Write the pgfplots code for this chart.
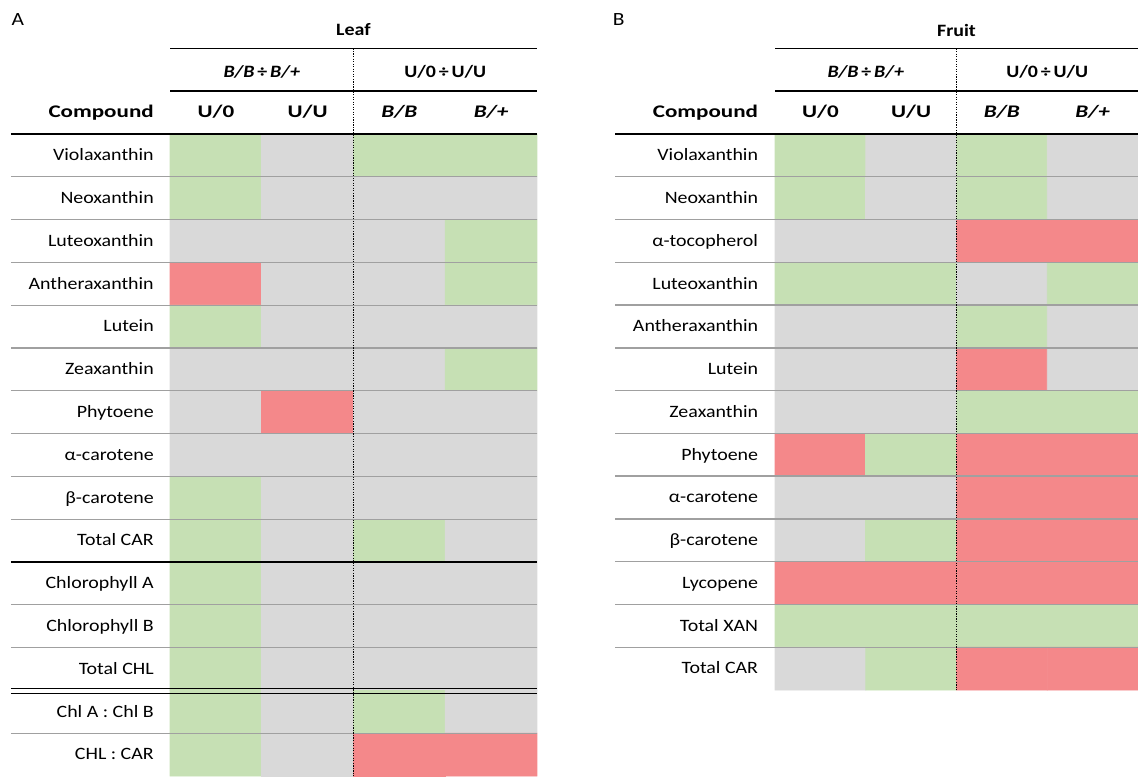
\documentclass[border=0pt]{standalone}
\usepackage{fontspec}
\setmainfont{Carlito}[FakeStretch=1.15]
\newfontfamily\hdfont{Carlito}[FakeStretch=1.3]
\usepackage{pgfplots}
\usepackage{pgfplotstable}
\pgfplotsset{compat=1.18}
\definecolor{cg}{HTML}{C6E0B4}
\definecolor{cn}{HTML}{D9D9D9}
\definecolor{cr}{HTML}{F4888A}
\definecolor{sep}{HTML}{A0A0A0}

% 0 = green (increase), 1 = grey (n.s.), 2 = red (decrease)
% columns: U/0, U/U, B/B, B/+
\pgfplotstableread{
x y c
0.5 -1 0
1.5 -1 1
2.5 -1 0
3.5 -1 0
0.5 -2 0
1.5 -2 1
2.5 -2 1
3.5 -2 1
0.5 -3 1
1.5 -3 1
2.5 -3 1
3.5 -3 0
0.5 -4 2
1.5 -4 1
2.5 -4 1
3.5 -4 0
0.5 -5 0
1.5 -5 1
2.5 -5 1
3.5 -5 1
0.5 -6 1
1.5 -6 1
2.5 -6 1
3.5 -6 0
0.5 -7 1
1.5 -7 2
2.5 -7 1
3.5 -7 1
0.5 -8 1
1.5 -8 1
2.5 -8 1
3.5 -8 1
0.5 -9 0
1.5 -9 1
2.5 -9 1
3.5 -9 1
0.5 -10 0
1.5 -10 1
2.5 -10 0
3.5 -10 1
0.5 -11 0
1.5 -11 1
2.5 -11 1
3.5 -11 1
0.5 -12 0
1.5 -12 1
2.5 -12 1
3.5 -12 1
0.5 -13 0
1.5 -13 1
2.5 -13 1
3.5 -13 1
0.5 -14 0
1.5 -14 1
2.5 -14 0
3.5 -14 1
0.5 -15 0
1.5 -15 1
2.5 -15 2
3.5 -15 2
}\leafdata

\pgfplotstableread{
x y c
0.5 -1 0
1.5 -1 1
2.5 -1 0
3.5 -1 1
0.5 -2 0
1.5 -2 1
2.5 -2 0
3.5 -2 1
0.5 -3 1
1.5 -3 1
2.5 -3 2
3.5 -3 2
0.5 -4 0
1.5 -4 0
2.5 -4 1
3.5 -4 0
0.5 -5 1
1.5 -5 1
2.5 -5 0
3.5 -5 1
0.5 -6 1
1.5 -6 1
2.5 -6 2
3.5 -6 1
0.5 -7 1
1.5 -7 1
2.5 -7 0
3.5 -7 0
0.5 -8 2
1.5 -8 0
2.5 -8 2
3.5 -8 2
0.5 -9 1
1.5 -9 1
2.5 -9 2
3.5 -9 2
0.5 -10 1
1.5 -10 0
2.5 -10 2
3.5 -10 2
0.5 -11 2
1.5 -11 2
2.5 -11 2
3.5 -11 2
0.5 -12 0
1.5 -12 0
2.5 -12 0
3.5 -12 0
0.5 -13 1
1.5 -13 0
2.5 -13 2
3.5 -13 2
}\fruitdata

\pgfplotsset{
  cellaxis/.style={
    scale only axis, hide axis, clip=false,
    anchor=north west,
    xmin=0, xmax=4,
    colormap={cat}{color(0)=(cg) color(1)=(cn) color(2)=(cr)},
    colormap access=direct,
    point meta min=0, point meta max=2,
  },
}
\newcommand{\fs}{\fontsize{13}{15}\selectfont}
\newcommand{\hs}{\hdfont\fontsize{13.3}{15}\selectfont\bfseries}

\begin{document}
\begin{tikzpicture}[font=\fs, every node/.style={inner sep=0pt}]
\useasboundingbox (0,0) rectangle (853.5pt,-582pt);
\node[anchor=base west, font=\fontsize{14}{16}\selectfont] at (8.5pt,-18.75pt) {A};
\node[anchor=base west, font=\fontsize{14}{16}\selectfont] at (459.5pt,-18.75pt) {B};

% ---------------- Panel A : Leaf ----------------
\begin{axis}[cellaxis, at={(127.5pt,-100.5pt)}, width=275.25pt, height=481.5pt,
  ymin=-15.5, ymax=-0.5]
\addplot[matrix plot*, mesh/cols=4, point meta=explicit] table[meta=c]{\leafdata};
\pgfplotsinvokeforeach{1,2,3,4,5,6,7,8,9,11,12,14}{
  \draw[sep, line width=1pt] (axis cs:-1.733,-#1-0.5) -- (axis cs:4,-#1-0.5);
}
\draw[black, line width=0.8pt] (axis cs:-1.733,-10.5) -- (axis cs:4,-10.5);
\draw[black, line width=0.8pt] (axis cs:-1.733,-13.45) -- (axis cs:4,-13.45);
\draw[black, line width=0.8pt] (axis cs:-1.733,-13.57) -- (axis cs:4,-13.57);
\draw[black, line width=1.3pt] (axis cs:-1.733,-0.5) -- (axis cs:4,-0.5);
\draw[black, line width=1.3pt] (axis cs:0,0.5) -- (axis cs:4,0.5);
\draw[black, line width=1.3pt] (axis cs:0,1.5) -- (axis cs:4,1.5);
\draw[black, densely dotted, line width=0.9pt] (axis cs:2,1.5) -- (axis cs:2,-15.5);
% headers
\node[anchor=base, font=\fs\bfseries] at (axis cs:2,1.79) {Leaf};
\node[anchor=base, font=\fs\bfseries] at (axis cs:1,0.83) {\textit{B/B}\,÷\,\textit{B/+}};
\node[anchor=base, font=\fs\bfseries] at (axis cs:3,0.83) {U/0\,÷\,U/U};
\node[anchor=base east, xshift=-12pt, font=\hs] at (axis cs:0,-0.12) {Compound};
\node[anchor=base, font=\hs] at (axis cs:0.5,-0.12) {U/0};
\node[anchor=base, font=\hs] at (axis cs:1.5,-0.12) {U/U};
\node[anchor=base, font=\hs\itshape] at (axis cs:2.5,-0.12) {B/B};
\node[anchor=base, font=\hs\itshape] at (axis cs:3.5,-0.12) {B/+};
% row labels
\node[anchor=base east, xshift=-12pt] at (axis cs:0,-1.124) {Violaxanthin};
\node[anchor=base east, xshift=-12pt] at (axis cs:0,-2.124) {Neoxanthin};
\node[anchor=base east, xshift=-12pt] at (axis cs:0,-3.124) {Luteoxanthin};
\node[anchor=base east, xshift=-12pt] at (axis cs:0,-4.124) {Antheraxanthin};
\node[anchor=base east, xshift=-12pt] at (axis cs:0,-5.124) {Lutein};
\node[anchor=base east, xshift=-12pt] at (axis cs:0,-6.124) {Zeaxanthin};
\node[anchor=base east, xshift=-12pt] at (axis cs:0,-7.124) {Phytoene};
\node[anchor=base east, xshift=-12pt] at (axis cs:0,-8.124) {α-carotene};
\node[anchor=base east, xshift=-12pt] at (axis cs:0,-9.124) {β-carotene};
\node[anchor=base east, xshift=-12pt] at (axis cs:0,-10.124) {Total CAR};
\node[anchor=base east, xshift=-12pt] at (axis cs:0,-11.124) {Chlorophyll A};
\node[anchor=base east, xshift=-12pt] at (axis cs:0,-12.124) {Chlorophyll B};
\node[anchor=base east, xshift=-12pt] at (axis cs:0,-13.124) {Total CHL};
\node[anchor=base east, xshift=-12pt] at (axis cs:0,-14.124) {Chl A : Chl B};
\node[anchor=base east, xshift=-12pt] at (axis cs:0,-15.124) {CHL : CAR};
\end{axis}

% ---------------- Panel B : Fruit ----------------
\begin{axis}[cellaxis, at={(581.25pt,-100.5pt)}, width=272.25pt, height=417pt,
  ymin=-13.5, ymax=-0.5]
\addplot[matrix plot*, mesh/cols=4, point meta=explicit] table[meta=c]{\fruitdata};
\pgfplotsinvokeforeach{1,2,3,4,5,6,7,8,9,10,11,12}{
  \draw[sep, line width=1pt] (axis cs:-1.763,-#1-0.5) -- (axis cs:4,-#1-0.5);
}
\draw[black, line width=1.3pt] (axis cs:-1.763,-0.5) -- (axis cs:4,-0.5);
\draw[black, line width=1.3pt] (axis cs:0,0.5) -- (axis cs:4,0.5);
\draw[black, line width=1.3pt] (axis cs:0,1.5) -- (axis cs:4,1.5);
\draw[black, densely dotted, line width=0.9pt] (axis cs:2,1.5) -- (axis cs:2,-13.5);
% headers
\node[anchor=base, font=\fs\bfseries] at (axis cs:2,1.79) {Fruit};
\node[anchor=base, font=\fs\bfseries] at (axis cs:1,0.83) {\textit{B/B}\,÷\,\textit{B/+}};
\node[anchor=base, font=\fs\bfseries] at (axis cs:3,0.83) {U/0\,÷\,U/U};
\node[anchor=base east, xshift=-12.5pt, font=\hs] at (axis cs:0,-0.12) {Compound};
\node[anchor=base, font=\hs] at (axis cs:0.5,-0.12) {U/0};
\node[anchor=base, font=\hs] at (axis cs:1.5,-0.12) {U/U};
\node[anchor=base, font=\hs\itshape] at (axis cs:2.5,-0.12) {B/B};
\node[anchor=base, font=\hs\itshape] at (axis cs:3.5,-0.12) {B/+};
% row labels
\node[anchor=base east, xshift=-12.5pt] at (axis cs:0,-1.124) {Violaxanthin};
\node[anchor=base east, xshift=-12.5pt] at (axis cs:0,-2.124) {Neoxanthin};
\node[anchor=base east, xshift=-12.5pt] at (axis cs:0,-3.124) {α-tocopherol};
\node[anchor=base east, xshift=-12.5pt] at (axis cs:0,-4.124) {Luteoxanthin};
\node[anchor=base east, xshift=-12.5pt] at (axis cs:0,-5.124) {Antheraxanthin};
\node[anchor=base east, xshift=-12.5pt] at (axis cs:0,-6.124) {Lutein};
\node[anchor=base east, xshift=-12.5pt] at (axis cs:0,-7.124) {Zeaxanthin};
\node[anchor=base east, xshift=-12.5pt] at (axis cs:0,-8.124) {Phytoene};
\node[anchor=base east, xshift=-12.5pt] at (axis cs:0,-9.124) {α-carotene};
\node[anchor=base east, xshift=-12.5pt] at (axis cs:0,-10.124) {β-carotene};
\node[anchor=base east, xshift=-12.5pt] at (axis cs:0,-11.124) {Lycopene};
\node[anchor=base east, xshift=-12.5pt] at (axis cs:0,-12.124) {Total XAN};
\node[anchor=base east, xshift=-12.5pt] at (axis cs:0,-13.124) {Total CAR};
\end{axis}
\end{tikzpicture}
\end{document}
